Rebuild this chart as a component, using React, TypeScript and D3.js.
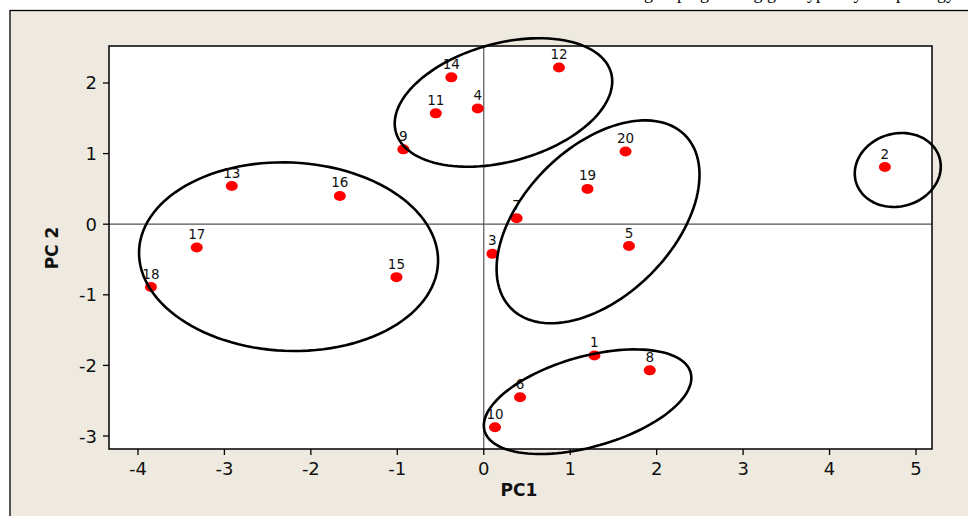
import React from "react";
import * as d3 from "d3";

const pointIds = ["1","2","3","4","5","6","7","8","9","10","11","12","13","14","15","16","17","18","19","20"];
const pc1Values = [1.28, 4.64, 0.10, -0.07, 1.68, 0.42, 0.38, 1.92, -0.93, 0.13, -0.555, 0.87, -2.915, -0.375, -1.01, -1.665, -3.32, -3.85, 1.20, 1.64];
const pc2Values = [-1.86, 0.81, -0.42, 1.64, -0.31, -2.45, 0.085, -2.07, 1.06, -2.875, 1.57, 2.22, 0.54, 2.08, -0.75, 0.40, -0.33, -0.89, 0.50, 1.03];

const xTicks = [-4, -3, -2, -1, 0, 1, 2, 3, 4, 5];
const yTicks = [-3, -2, -1, 0, 1, 2];
const xDomain = [-4.335, 5.185];
const yDomain = [-3.184, 2.524];

// group ellipses: center (data units) and conjugate semi-diameter vectors (data units)
const ellipseCx = [-2.258, 0.228, 1.322, 1.201, 4.789];
const ellipseCy = [-0.460, 1.724, 0.034, -2.514, 0.768];
const ellipseU = [[1.729, -0.0887], [1.245, 0.420], [1.004, 1.229], [1.192, 0.413], [0.484, 0.168]];
const ellipseV = [[0.0456, 1.333], [-0.182, 0.807], [-0.608, 0.744], [-0.142, 0.615], [-0.1145, 0.496]];

export default function App() {
  const W = 968, H = 516;
  const left = 109, right = 932, top = 46, bottom = 449;
  const x = d3.scaleLinear().domain(xDomain).range([left, right]);
  const y = d3.scaleLinear().domain(yDomain).range([bottom, top]);

  const ts = d3.range(0, 361, 3).map((d) => (d * Math.PI) / 180);
  const line = d3.line<number[]>().x((d) => x(d[0])).y((d) => y(d[1])).curve(d3.curveLinearClosed);
  const ellipsePaths = ellipseCx.map((cx, i) => {
    const u = ellipseU[i], v = ellipseV[i], cy = ellipseCy[i];
    const pts = ts.slice(0, -1).map((t) => [
      cx + u[0] * Math.cos(t) + v[0] * Math.sin(t),
      cy + u[1] * Math.cos(t) + v[1] * Math.sin(t),
    ]);
    return line(pts) || "";
  });

  const font = "'DejaVu Sans', Verdana, sans-serif";

  return (
    <svg width={W} height={H} style={{ position: "absolute", left: 0, top: 0 }} fontFamily={font}>
      <rect x={0} y={0} width={W} height={H} fill="#ffffff" />
      <text x={955} y={-1.5} textAnchor="end" fontFamily="'Liberation Serif', serif" fontSize={18} fill="#000">
        grouping among genotypes by morphology
      </text>
      <rect x={10} y={10.5} width={W + 20} height={H + 20} fill="#EEEAE0" stroke="#000" strokeWidth={1.3} />
      <defs>
        <clipPath id="plotClip">
          <rect x={0} y={0} width={W} height={H} />
        </clipPath>
      </defs>
      <rect x={left} y={top} width={right - left} height={bottom - top} fill="#ffffff" stroke="none" />
      {/* zero reference lines */}
      <line x1={x(0)} x2={x(0)} y1={top} y2={bottom} stroke="#555" strokeWidth={1.2} />
      <line x1={left} x2={right} y1={y(0)} y2={y(0)} stroke="#555" strokeWidth={1.2} />
      {/* points */}
      {pointIds.map((id, i) => (
        <g key={id}>
          <ellipse cx={x(pc1Values[i])} cy={y(pc2Values[i])} rx={6} ry={5} fill="#FF0000" />
          <text x={x(pc1Values[i])} y={y(pc2Values[i]) - 8.5} textAnchor="middle" fontSize={13.5} fill="#111">
            {id}
          </text>
        </g>
      ))}
      {/* ellipses */}
      <g clipPath="url(#plotClip)">
        {ellipsePaths.map((p, i) => (
          <path key={i} d={p} fill="none" stroke="#000" strokeWidth={2.6} />
        ))}
      </g>
      {/* frame */}
      <rect x={left} y={top} width={right - left} height={bottom - top} fill="none" stroke="#000" strokeWidth={1.5} />
      {/* x axis */}
      {xTicks.map((t) => (
        <g key={"x" + t}>
          <line x1={x(t)} x2={x(t)} y1={bottom} y2={bottom + 6} stroke="#000" strokeWidth={1.3} />
          <text x={x(t)} y={bottom + 26} textAnchor="middle" fontSize={18} fill="#111">
            {t < 0 ? "-" + Math.abs(t) : String(t)}
          </text>
        </g>
      ))}
      {/* y axis */}
      {yTicks.map((t) => (
        <g key={"y" + t}>
          <line x1={left - 6} x2={left} y1={y(t)} y2={y(t)} stroke="#000" strokeWidth={1.3} />
          <text x={left - 12} y={y(t) + 6.5} textAnchor="end" fontSize={18} fill="#111">
            {t < 0 ? "-" + Math.abs(t) : String(t)}
          </text>
        </g>
      ))}
      <text x={519} y={496} textAnchor="middle" fontSize={17} fontWeight="bold" fill="#111">
        PC1
      </text>
      <text transform={`translate(${58},${248}) rotate(-90)`} textAnchor="middle" fontSize={17} fontWeight="bold" fill="#111">
        PC 2
      </text>
    </svg>
  );
}
